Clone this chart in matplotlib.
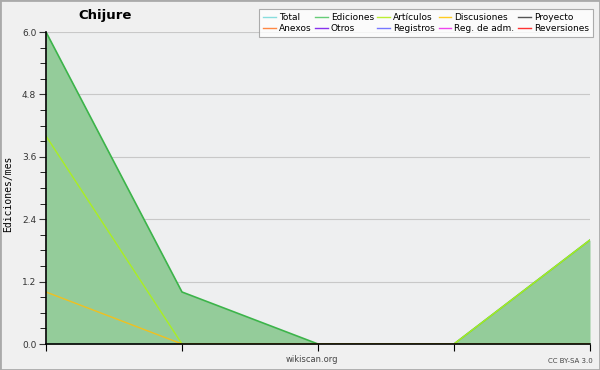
import matplotlib
matplotlib.use("Agg")
import matplotlib.pyplot as plt
from matplotlib.ticker import MultipleLocator, FormatStrFormatter
from matplotlib.lines import Line2D
from matplotlib.patches import Rectangle

# datos (5 meses)
meses = [0, 1, 2, 3, 4]
ediciones = [6.0, 1.0, 0.0, 0.0, 2.0]
articulos = [4.0, 0.0, 0.0, 0.0, 2.0]
discusiones = [1.0, 0.0, 0.0, 0.0, 0.0]

leyenda_nombres = ["Total", "Anexos", "Ediciones", "Otros", "Artículos",
                   "Registros", "Discusiones", "Reg. de adm.", "Proyecto", "Reversiones"]
leyenda_colores = ["#88dddd", "#ff8844", "#66cc77", "#8833ee", "#bbee33",
                   "#7777ff", "#ffcc22", "#ee44ee", "#555555", "#ff3333"]

fig = plt.figure(figsize=(6, 3.7), dpi=100, facecolor="#f0f0f0")
fig.patches.append(Rectangle((0, 0), 1, 1, transform=fig.transFigure,
                             fill=False, edgecolor="#aaaaaa", linewidth=2))
ax = fig.add_axes([46 / 600, 26 / 370, 544 / 600, 312 / 370])
ax.set_facecolor("#eeeff0")

ax.fill_between(meses, ediciones, 0, color="#94cc9a", linewidth=0, zorder=1)
ax.plot(meses, ediciones, color="#3cb44a", linewidth=1.2, zorder=2)
ax.plot(meses, articulos, color="#aaee22", linewidth=1.0, zorder=2)
ax.plot(meses, discusiones, color="#f0c020", linewidth=1.0, zorder=2)

ax.set_xlim(0, 4)
ax.set_ylim(0, 6)
ax.yaxis.set_major_locator(MultipleLocator(1.2))
ax.yaxis.set_minor_locator(MultipleLocator(0.3))
ax.yaxis.set_major_formatter(FormatStrFormatter("%.1f"))
ax.set_xticks(meses)
ax.set_xticklabels([])
ax.grid(axis="y", color="#c8c8c8", linewidth=0.8, zorder=0)
ax.set_axisbelow(True)
ax.tick_params(axis="y", which="major", length=5, labelsize=6.5, colors="#333333", pad=2)
ax.tick_params(axis="y", which="minor", length=4)
ax.tick_params(axis="x", length=5)
for s in ["top", "right"]:
    ax.spines[s].set_visible(False)
ax.spines["left"].set_linewidth(1.2)
ax.spines["bottom"].set_linewidth(1.2)

ax.set_ylabel("Ediciones/mes", family="DejaVu Sans Mono", fontsize=7)
ax.yaxis.set_label_coords(-33 / 544, 0.48)

fig.text(105 / 600, 1 - 15 / 370, "Chijure", ha="center", va="center",
         fontsize=9.5, fontweight="bold")
fig.text(312 / 600, 1 - 360 / 370, "wikiscan.org", ha="center", va="center",
         fontsize=6, color="#444444")
fig.text(570 / 600, 1 - 361 / 370, "CC BY-SA 3.0", ha="center", va="center",
         fontsize=5, color="#444444")

handles = [Line2D([], [], color=c, linewidth=1) for c in leyenda_colores]
leg = ax.legend(handles, leyenda_nombres, ncol=5, loc="upper right",
                bbox_to_anchor=(593 / 600, 1 - 9 / 370), bbox_transform=fig.transFigure,
                fontsize=6.5, frameon=True, fancybox=False, handlelength=1.4,
                handletextpad=0.35, columnspacing=0.4, labelspacing=0.25,
                borderpad=0.45, borderaxespad=0)
leg.get_frame().set_edgecolor("#999999")
leg.get_frame().set_linewidth(0.8)

fig.savefig("out.png", dpi=100, facecolor=fig.get_facecolor())
